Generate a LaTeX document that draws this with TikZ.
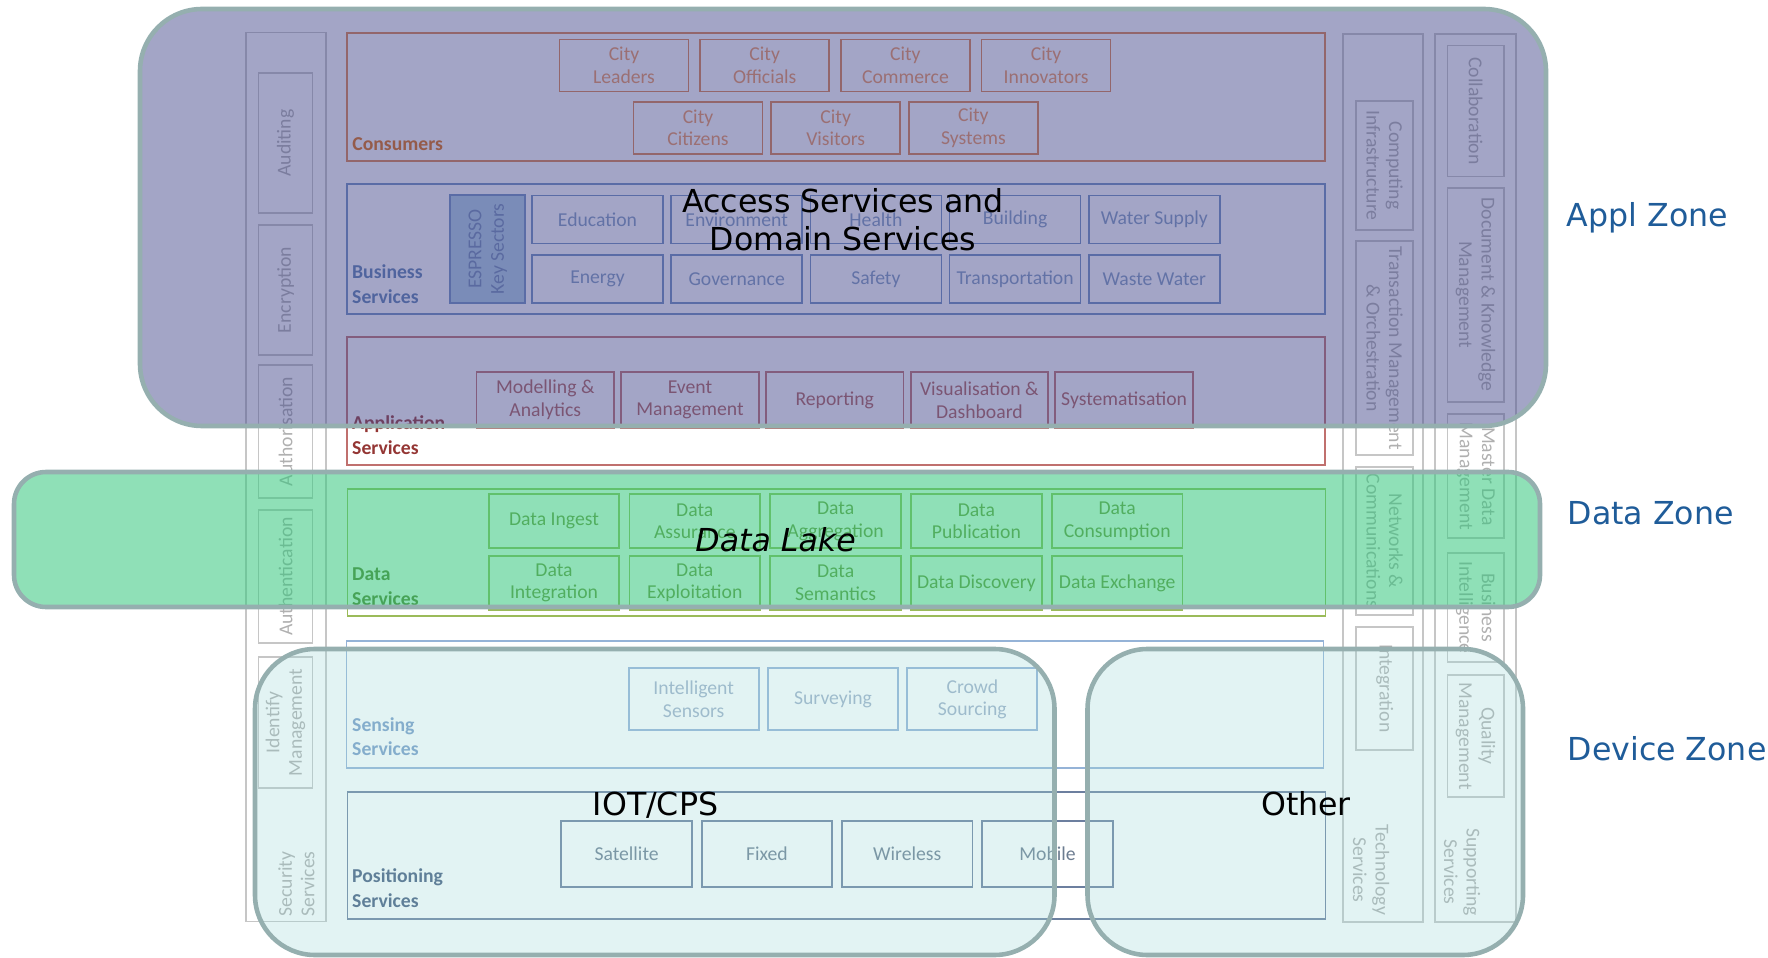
\documentclass[tikz,border=0pt]{standalone}
\usepackage{fontspec}
\setmainfont{Carlito}
\newfontfamily\zonefont{DejaVu Sans}
\usepackage{tikz}
\usetikzlibrary{shapes}
\definecolor{zoneline}{HTML}{95AFAF}
\definecolor{applfill}{HTML}{474B8D}
\definecolor{datafill}{HTML}{33C67C}
\definecolor{devfill}{HTML}{9ED7D7}
\definecolor{zonetext}{HTML}{1F5C99}
\definecolor{colline}{HTML}{C6C6C6}
\definecolor{coltext}{HTML}{B0B0B0}
\definecolor{conline}{HTML}{E0824A}
\definecolor{context}{HTML}{F0955A}
\definecolor{conlab}{HTML}{E36C09}
\definecolor{busline}{HTML}{6F8FC0}
\definecolor{bustext}{HTML}{7F9AC0}
\definecolor{buslab}{HTML}{5A7FB0}
\definecolor{espfill}{HTML}{AFCFE5}
\definecolor{esptext}{HTML}{6F8AB5}
\definecolor{appline}{HTML}{C0706E}
\definecolor{apptext}{HTML}{B0605A}
\definecolor{applab}{HTML}{943634}
\definecolor{dataline}{HTML}{9BBB59}
\definecolor{datatext}{HTML}{76923C}
\definecolor{datalab}{HTML}{5F7A2A}
\definecolor{senline}{HTML}{95B3D7}
\definecolor{sentext}{HTML}{9FB0C8}
\definecolor{senlab}{HTML}{7A9CC8}
\definecolor{posline}{HTML}{6C7F9F}
\definecolor{postext}{HTML}{6C7C90}
\definecolor{poslab}{HTML}{455A7E}
\newcommand{\boxfs}{\fontsize{5.6}{6.4}\selectfont}
\newcommand{\grpfs}{\bfseries\fontsize{5.6}{6.9}\selectfont}
\newcommand{\zonefs}{\zonefont\fontsize{9}{10.8}\selectfont}
\tikzstyle{block} = [draw, rectangle, line width=0.5pt, inner sep=0pt, align=center, font=\boxfs]
\tikzstyle{group} = [draw, rectangle, line width=0.5pt, inner sep=0pt]
\tikzstyle{city} = [block, draw=conline, text=context, minimum width=12.9mm, minimum height=5.2mm]
\tikzstyle{sector} = [block, draw=busline, text=bustext, minimum width=13.1mm, minimum height=4.8mm]
\tikzstyle{appbox} = [block, draw=appline, text=apptext, minimum width=13.75mm, minimum height=5.6mm]
\tikzstyle{databox} = [block, draw=dataline, text=datatext, minimum width=13.05mm, minimum height=5.4mm]
\tikzstyle{sensebox} = [block, draw=senline, text=sentext, minimum width=13mm, minimum height=6.2mm]
\tikzstyle{posbox} = [block, draw=posline, text=postext, minimum width=13.05mm, minimum height=6.6mm]
\tikzstyle{sidebox} = [block, draw=colline, text=coltext]
\tikzstyle{sidelabel} = [inner sep=0pt, align=center, text=coltext, font=\boxfs]
\tikzstyle{grplabel} = [anchor=south west, inner sep=0pt, align=left, font=\grpfs]
\tikzstyle{zone} = [draw=zoneline, line width=1.3pt]
\tikzstyle{zonelabel} = [anchor=base west, inner sep=0pt, text=zonetext, font=\zonefs]
\tikzstyle{tag} = [inner sep=0pt, align=center, font=\zonefs]

\begin{document}
\begin{tikzpicture}[x=0.1mm, y=-0.1mm, node distance=14mm]
        \useasboundingbox (0,0) rectangle (1768,958);

        \node[group, draw=colline, minimum width=8mm, minimum height=88.9mm] (security) at (286,477) {};
        \node[group, draw=colline, minimum width=8mm, minimum height=88.8mm] (technology) at (1383,478) {};
        \node[group, draw=colline, minimum width=8.1mm, minimum height=88.8mm] (supporting) at (1475.2,478) {};
        \node[group, draw=conline, minimum width=97.8mm, minimum height=12.8mm] (consumers) at (836,97) {};
        \node[group, draw=busline, minimum width=97.8mm, minimum height=13mm] (business) at (836,249.3) {};
        \node[group, draw=appline, minimum width=97.8mm, minimum height=12.77mm] (application) at (836,401.2) {};
        \node[group, draw=dataline, minimum width=97.8mm, minimum height=12.67mm] (dataserv) at (836.4,552.7) {};
        \node[group, draw=senline, minimum width=97.7mm, minimum height=12.67mm] (sensing) at (835,704.3) {};
        \node[group, draw=posline, minimum width=97.8mm, minimum height=12.76mm] (positioning) at (836.5,855.5) {};

        \node[sidebox, rotate=90, minimum width=14mm, minimum height=5.4mm] (auditing) at (285.6,143) {Auditing};
        \node[sidebox, rotate=90, minimum width=13mm, minimum height=5.4mm] (encryption) at (285.6,290) {Encryption};
        \node[sidebox, rotate=90, minimum width=13.3mm, minimum height=5.4mm] (authorisation) at (285.6,431.5) {Authorisation};
        \node[sidebox, rotate=90, minimum width=13.3mm, minimum height=5.4mm] (authentication) at (285.6,576.5) {Authentication};
        \node[sidebox, rotate=90, minimum width=13.1mm, minimum height=5.4mm] (identity) at (285.6,722.5) {Identify\\Management};
        \node[sidelabel, rotate=90] (secserv) at (296.5,884) {Security\\Services};

        \node[sidebox, rotate=-90, minimum width=12.9mm, minimum height=5.7mm] (computing) at (1384.6,165.5) {Computing\\Infrastructure};
        \node[sidebox, rotate=-90, minimum width=21.4mm, minimum height=5.7mm] (transaction) at (1384.6,348) {Transaction Management\\\& Orchestration};
        \node[sidebox, rotate=-90, minimum width=14.8mm, minimum height=5.7mm] (networks) at (1384.6,541) {Networks \&\\Communications};
        \node[sidebox, rotate=-90, minimum width=12.3mm, minimum height=5.7mm] (integration) at (1384.6,688.4) {Integration};
        \node[sidelabel, rotate=-90] (techserv) at (1371,870) {Technology\\Services};

        \node[sidebox, rotate=-90, minimum width=13.1mm, minimum height=5.6mm] (collab) at (1475.6,111) {Collaboration};
        \node[sidebox, rotate=-90, minimum width=21.4mm, minimum height=5.6mm] (document) at (1475.6,294.7) {Document \& Knowledge\\Management};
        \node[sidebox, rotate=-90, minimum width=12.4mm, minimum height=5.6mm] (master) at (1475.6,476.3) {Master Data\\Management};
        \node[sidebox, rotate=-90, minimum width=10.9mm, minimum height=5.6mm] (bi) at (1475.6,607.5) {Business\\Intelligence};
        \node[sidebox, rotate=-90, minimum width=12.2mm, minimum height=5.6mm] (quality) at (1475.6,736) {Quality\\Management};
        \node[sidelabel, rotate=-90] (suppserv) at (1462,872) {Supporting\\Services};

        \node[grplabel, text=conlab] (conslabel) at (351.7,151) {Consumers};
        \node[city] (leaders) at (624,65.5) {City\\Leaders};
        \node[city, right of=leaders, node distance=14.07mm] (officials) {City\\Officials};
        \node[city, right of=officials, node distance=14.07mm] (commerce) {City\\Commerce};
        \node[city, right of=commerce, node distance=14.07mm] (innovators) {City\\Innovators};
        \node[city] (citizens) at (698,128) {City\\Citizens};
        \node[city, right of=citizens, node distance=13.77mm] (visitors) {City\\Visitors};
        \node[city, right of=visitors, node distance=13.77mm] (systems) {City\\Systems};

        \node[grplabel, text=buslab] (buslabel) at (351.5,304) {Business\\Services};
        \node[block, rotate=90, draw=busline, fill=espfill, text=esptext, minimum width=10.8mm, minimum height=7.5mm] (espresso) at (487.7,249) {ESPRESSO\\Key Sectors};
        \node[sector] (education) at (597.5,219.5) {Education};
        \node[sector, right of=education, node distance=13.92mm] (environment) {Environment};
        \node[sector, right of=environment, node distance=13.92mm] (health) {Health};
        \node[sector, right of=health, node distance=13.92mm] (building) {Building};
        \node[sector, right of=building, node distance=13.92mm] (water) {Water Supply};
        \node[sector, below of=education, node distance=5.97mm] (energy) {Energy};
        \node[sector, right of=energy, node distance=13.92mm] (governance) {Governance};
        \node[sector, right of=governance, node distance=13.92mm] (safety) {Safety};
        \node[sector, right of=safety, node distance=13.92mm] (transport) {Transportation};
        \node[sector, right of=transport, node distance=13.92mm] (waste) {Waste Water};

        \node[grplabel, text=applab] (applabel) at (351.5,455) {Application\\Services};
        \node[appbox] (modelling) at (545.3,400) {Modelling \&\\Analytics};
        \node[appbox, right of=modelling, node distance=14.47mm] (event) {Event\\Management};
        \node[appbox, right of=event, node distance=14.47mm] (reporting) {Reporting};
        \node[appbox, right of=reporting, node distance=14.47mm] (visual) {Visualisation \&\\Dashboard};
        \node[appbox, right of=visual, node distance=14.47mm] (systemat) {Systematisation};

        \node[grplabel, text=datalab] (datalabel) at (351.5,606) {Data\\Services};
        \node[databox] (ingest) at (554,521.3) {Data Ingest};
        \node[databox, right of=ingest, node distance=14.08mm] (assurance) {Data\\Assurance};
        \node[databox, right of=assurance, node distance=14.08mm] (aggregation) {Data\\Aggregation};
        \node[databox, right of=aggregation, node distance=14.08mm] (publication) {Data\\Publication};
        \node[databox, right of=publication, node distance=14.08mm] (consumption) {Data\\Consumption};
        \node[databox, below of=ingest, node distance=6.17mm] (dintegration) {Data\\Integration};
        \node[databox, right of=dintegration, node distance=14.08mm] (exploitation) {Data\\Exploitation};
        \node[databox, right of=exploitation, node distance=14.08mm] (semantics) {Data\\Semantics};
        \node[databox, right of=semantics, node distance=14.08mm] (discovery) {Data Discovery};
        \node[databox, right of=discovery, node distance=14.08mm] (exchange) {Data Exchange};

        \node[grplabel, text=senlab] (senlabel) at (351.5,756.7) {Sensing\\Services};
        \node[sensebox] (sensors) at (693.7,699.2) {Intelligent\\Sensors};
        \node[sensebox, right of=sensors, node distance=13.93mm] (surveying) {Surveying};
        \node[sensebox, right of=surveying, node distance=13.93mm] (crowd) {Crowd\\Sourcing};

        \node[grplabel, text=poslab] (poslabel) at (351.5,908) {Positioning\\Services};
        \node[posbox] (satellite) at (626.6,853.7) {Satellite};
        \node[posbox, right of=satellite, node distance=14.03mm] (fixed) {Fixed};
        \node[posbox, right of=fixed, node distance=14.03mm] (wireless) {Wireless};
        \node[posbox, right of=wireless, node distance=14.03mm] (mobile) {Mobile};

        \draw[zone, fill=applfill, fill opacity=0.5, rounded corners=6.2mm] (140,9) rectangle (1546,426);
        \draw[zone, fill=datafill, fill opacity=0.55, rounded corners=3.2mm] (14,472) rectangle (1540,607);
        \draw[zone, fill=devfill, fill opacity=0.3, rounded corners=6mm] (255,649) rectangle (1054.5,955);
        \draw[zone, fill=devfill, fill opacity=0.3, rounded corners=6mm] (1087.5,649) rectangle (1523,955);

        \node[tag] (access) at (843,220) {Access Services and\\Domain Services};
        \node[tag, anchor=base, font=\zonefs\itshape] (lake) at (775.6,551.7) {Data Lake};
        \node[tag, anchor=base] (iot) at (655.5,815) {IOT/CPS};
        \node[tag, anchor=base] (other) at (1306,815) {Other};
        \node[zonelabel] (applzone) at (1566,226.7) {Appl Zone};
        \node[zonelabel] (datazone) at (1567,525) {Data Zone};
        \node[zonelabel] (devzone) at (1567,760) {Device Zone};
    \end{tikzpicture}
\end{document}
